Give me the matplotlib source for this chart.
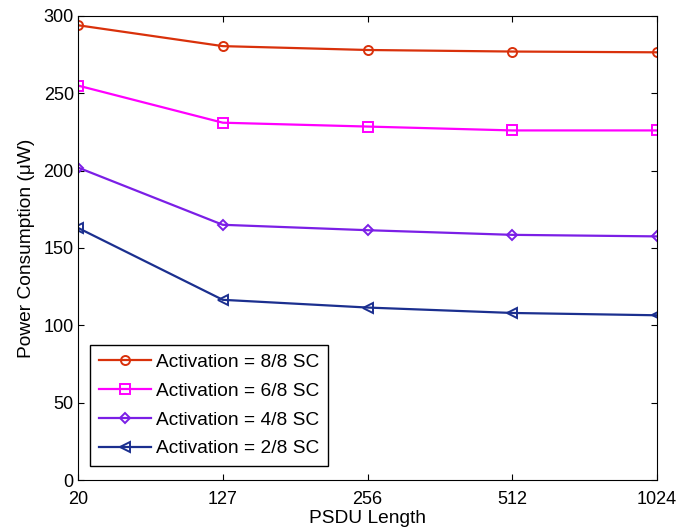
import numpy as np
import matplotlib.pyplot as plt

plt.rcParams['font.family'] = ['Liberation Sans', 'DejaVu Sans']

# data
psdu = ["20", "127", "256", "512", "1024"]
act_8 = [294, 280.5, 278, 277, 276.5]
act_6 = [255, 231, 228.5, 226, 226]
act_4 = [202, 165, 161.5, 158.5, 157.5]
act_2 = [163, 116.5, 111.5, 108, 106.5]

labels = ["Activation = 8/8 SC", "Activation = 6/8 SC",
          "Activation = 4/8 SC", "Activation = 2/8 SC"]
colors = ["#D9310B", "#FF00FF", "#7B1FE6", "#1B2F8F"]
markers = ["o", "s", "D", "<"]
msizes = [6.5, 6.5, 5, 6.5]

fig = plt.figure(figsize=(6.8, 5.32), dpi=100)
ax = fig.add_axes([0.1147, 0.0977, 0.8515, 0.8723])

x = np.arange(len(psdu))
for ys, lab, c, m, ms in zip([act_8, act_6, act_4, act_2], labels, colors, markers, msizes):
    ax.plot(x, ys, color=c, marker=m, markersize=ms, markerfacecolor="none",
            markeredgewidth=1.4, linewidth=1.6, label=lab)

ax.set_xlim(0, len(psdu) - 1)
ax.set_ylim(0, 300)
ax.set_xticks(x)
ax.set_xticklabels(psdu)
ax.set_yticks(np.arange(0, 301, 50))
ax.tick_params(direction="in", top=True, right=True, labelsize=13, length=4)
ax.tick_params(axis="x", pad=8)
ax.tick_params(axis="y", pad=3)
ax.set_xlabel("PSDU Length", fontsize=13.8, labelpad=1)
ax.set_ylabel("Power Consumption (\u03bcW)", fontsize=13.8, labelpad=6)

leg = ax.legend(loc="lower left", bbox_to_anchor=(0.021, 0.030), borderaxespad=0,
                fontsize=13.8, frameon=True, fancybox=False, edgecolor="black",
                framealpha=1, borderpad=0.45, labelspacing=0.6, handlelength=2.7,
                handletextpad=0.3)
leg.get_frame().set_linewidth(1.0)

fig.savefig("out.png", dpi=100)
